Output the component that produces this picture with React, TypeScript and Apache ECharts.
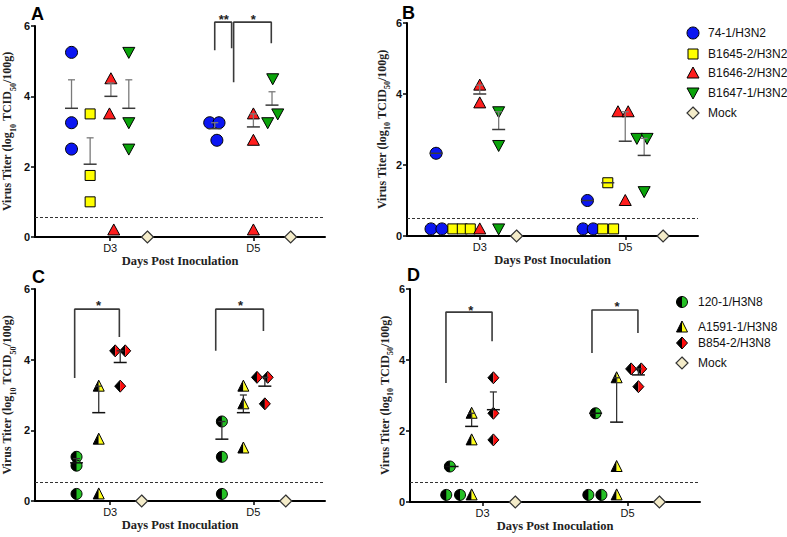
import React, { useEffect, useRef } from 'react';
import * as echarts from 'echarts';

const SANS = '"Liberation Sans", Arial, sans-serif';
const SERIF = '"Liberation Serif", "Times New Roman", serif';

const DAYS = ['D3', 'D5'];
const DAY_POS = [1, 2];
const Y_NAME = '{b|Virus Titer (log}{s|10}{b| TCID}{s|50}{b|/100g)}';
const X_NAME = 'Days Post Inoculation';

// ---------- Panel A (H3N2) ----------
const A_NAMES = ['74-1/H3N2', 'B1645-2/H3N2', 'B1646-2/H3N2', 'B1647-1/H3N2', 'Mock'];
const A_KINDS = ['circle', 'square', 'triangle', 'invTriangle', 'mock'];
const A_OFFSETS = [[-0.27, -0.27], [-0.14, -0.14], [0.005, 0], [0.13, 0.13], [0.26, 0.26]];
const A_VALUES = [
  [[5.25, 3.25, 2.5], [3.25, 3.25, 2.75]],
  [[3.5, 1.75, 1.0], []],
  [[4.5, 3.5, 0.2], [3.5, 2.75, 0.2]],
  [[5.25, 3.25, 2.5], [4.5, 3.5, 3.25]],
  [[0], [0]],
];
const A_JITTER = [
  [[0, 0, 0], [-0.035, 0.03, 0.015]],
  [[0, 0, 0], []],
  [[0, -0.01, 0.02], [0, 0, 0]],
  [[0, 0, 0], [0.005, 0.04, -0.03]],
  [[0], [0]],
];
const A_MEAN = [[3.66, 3.08], [2.07, null], [4.0, 3.13], [3.66, 3.75]];
const A_UPPER = [[4.47, 3.25], [2.82, null], [4.38, 3.5], [4.47, 4.13]];
const A_BRACKETS = [
  [[1.73, 5.31], [1.73, 6.11], [1.848, 6.11], [1.848, 5.37]],
  [[1.862, 4.4], [1.862, 6.11], [2.125, 6.11], [2.125, 5.51]],
];
const A_STARS = ['**', '*'];
const A_STAR_POS = [[1.793, 6.28], [2.0, 6.28]];
const A_LOD = 0.56;

// ---------- Panel B (H3N2) ----------
const B_OFFSETS = [[-0.30, -0.26], [-0.12, -0.12], [0, 0], [0.13, 0.13], [0.253, 0.26]];
const B_VALUES = [
  [[2.33, 0.2, 0.2], [1.0, 0.2, 0.2]],
  [[0.2, 0.2, 0.2], [1.5, 0.2, 0.2]],
  [[4.25, 3.75, 0.2], [3.5, 3.5, 1.0]],
  [[3.5, 2.55, 0.2], [2.75, 2.75, 1.25]],
  [[0], [0]],
];
const B_JITTER = [
  [[0, -0.035, 0.04], [0, -0.03, 0.04]],
  [[-0.065, 0, 0.055], [0, -0.035, 0.04]],
  [[0, 0, 0], [-0.05, 0.02, 0]],
  [[0, 0, 0], [-0.05, 0.02, 0]],
  [[0], [0]],
];
const B_MEAN = [[2.33, 1.0], [null, 1.5], [4.0, 2.67], [3.0, 2.27]];
const B_UPPER = [[2.33, 1.0], [null, 1.5], [4.25, 3.5], [3.5, 2.75]];
const B_LOD = 0.5;

// ---------- Panel C (H3N8) ----------
const CD_NAMES = ['120-1/H3N8', 'A1591-1/H3N8', 'B854-2/H3N8', 'Mock'];
const CD_KINDS = ['halfCircle', 'halfTriangle', 'halfDiamond', 'mock'];
const C_OFFSETS = [[-0.235, -0.22], [-0.08, -0.07], [0.07, 0.08], [0.22, 0.226]];
const C_VALUES = [
  [[1.25, 1.0, 0.2], [2.25, 1.25, 0.2]],
  [[3.25, 1.75, 0.2], [3.25, 2.75, 1.5]],
  [[4.25, 4.25, 3.25], [3.5, 3.5, 2.75]],
  [[0], [0]],
];
const C_JITTER = [
  [[0, 0, 0], [0, 0, 0]],
  [[0, 0, 0], [0, 0, 0]],
  [[-0.035, 0.035, 0], [-0.055, 0.02, 0]],
  [[0], [0]],
];
const C_MEAN = [[1.08, 1.75], [2.5, 2.5], [3.92, 3.25]];
const C_UPPER = [[1.2, 2.25], [3.25, 3.0], [4.25, 3.5]];
const C_BRACKETS = [
  [[0.752, 3.48], [0.752, 5.43], [1.064, 5.43], [1.064, 4.64]],
  [[1.737, 4.25], [1.737, 5.43], [2.07, 5.43], [2.07, 4.81]],
];
const C_STARS = ['*', '*'];
const C_STAR_POS = [[0.919, 5.63], [1.91, 5.63]];
const C_LOD = 0.53;

// ---------- Panel D (H3N8) ----------
const D_OFFSETS = [[-0.21, -0.22], [-0.075, -0.075], [0.075, 0.075], [0.226, 0.22]];
const D_VALUES = [
  [[1.0, 0.2, 0.2], [2.5, 0.2, 0.2]],
  [[2.5, 1.75, 0.2], [3.5, 1.0, 0.2]],
  [[3.5, 2.5, 1.75], [3.75, 3.75, 3.25]],
  [[0], [0]],
];
const D_JITTER = [
  [[-0.015, -0.04, 0.055], [0, -0.05, 0.04]],
  [[0, 0, 0], [0, 0, 0]],
  [[0, 0, 0], [-0.05, 0.02, 0]],
  [[0], [0]],
];
const D_MEAN = [[1.0, 2.5], [2.13, 2.25], [2.6, 3.58]];
const D_UPPER = [[1.0, 2.5], [2.5, 3.5], [3.1, 3.75]];
const D_BRACKETS = [
  [[0.748, 3.35], [0.748, 5.35], [1.066, 5.35], [1.066, 4.53]],
  [[1.755, 4.2], [1.755, 5.41], [2.072, 5.41], [2.072, 4.76]],
];
const D_STARS = ['*', '*'];
const D_STAR_POS = [[0.92, 5.49], [1.928, 5.58]];
const D_LOD = 0.56;

const COLORS: Record<string, string> = {
  circle: '#0b16f2',
  square: '#ffff00',
  triangle: '#ff1e1e',
  invTriangle: '#0aa40a',
  mock: '#f4ecc9',
  halfCircle: '#25c025',
  halfTriangle: '#ffff1a',
  halfDiamond: '#ff0b0b',
};

function shapes(kind: string, cx: number, cy: number): any[] {
  const fill = COLORS[kind];
  const edge = { stroke: '#000', lineWidth: 1 };
  switch (kind) {
    case 'circle':
      return [{ type: 'circle', shape: { cx, cy, r: 6 }, style: { fill, ...edge } }];
    case 'square':
      return [{ type: 'rect', shape: { x: cx - 5, y: cy - 5, width: 10, height: 10 }, style: { fill, ...edge } }];
    case 'triangle':
      return [{ type: 'polygon', shape: { points: [[cx, cy - 6], [cx + 6, cy + 5], [cx - 6, cy + 5]] }, style: { fill, ...edge } }];
    case 'invTriangle':
      return [{ type: 'polygon', shape: { points: [[cx - 6, cy - 5], [cx + 6, cy - 5], [cx, cy + 6]] }, style: { fill, ...edge } }];
    case 'mock':
      return [{ type: 'polygon', shape: { points: [[cx, cy - 6], [cx + 6, cy], [cx, cy + 6], [cx - 6, cy]] }, style: { fill, stroke: '#333', lineWidth: 1.2 } }];
    case 'halfCircle':
      return [
        { type: 'circle', shape: { cx, cy, r: 5.5 }, style: { fill } },
        { type: 'sector', shape: { cx, cy, r: 5.5, r0: 0, startAngle: Math.PI / 2, endAngle: (3 * Math.PI) / 2 }, style: { fill: '#000' } },
        { type: 'circle', shape: { cx, cy, r: 5.5 }, style: { fill: 'none', ...edge } },
      ];
    case 'halfTriangle': {
      const ap = [cx, cy - 6], bl = [cx - 5.5, cy + 5], bm = [cx, cy + 5], br = [cx + 5.5, cy + 5];
      return [
        { type: 'polygon', shape: { points: [ap, bl, bm] }, style: { fill: '#000' } },
        { type: 'polygon', shape: { points: [ap, bm, br] }, style: { fill } },
        { type: 'polygon', shape: { points: [ap, br, bl] }, style: { fill: 'none', ...edge } },
      ];
    }
    case 'halfDiamond': {
      const t = [cx, cy - 6], r = [cx + 5.5, cy], b = [cx, cy + 6], l = [cx - 5.5, cy];
      return [
        { type: 'polygon', shape: { points: [t, l, b] }, style: { fill: '#000' } },
        { type: 'polygon', shape: { points: [t, r, b] }, style: { fill } },
        { type: 'polygon', shape: { points: [t, r, b, l] }, style: { fill: 'none', ...edge } },
      ];
    }
  }
  return [];
}

function buildPanel(
  gi: number,
  kinds: string[],
  offsets: number[][],
  values: number[][][],
  jitter: number[][][],
  means: (number | null)[][],
  uppers: (number | null)[][],
  barColor: string,
  meanColor: string,
  brackets: number[][][],
  starTexts: string[],
  starPos: number[][],
  lod: number
): any[] {
  const out: any[] = [];
  values.forEach((grp, g) => {
    const data: number[][] = [];
    grp.forEach((dayVals, d) =>
      dayVals.forEach((v, k) => data.push([DAY_POS[d] + offsets[g][d] + jitter[g][d][k], v]))
    );
    out.push({
      type: 'custom',
      coordinateSystem: 'cartesian2d',
      xAxisIndex: gi,
      yAxisIndex: gi,
      clip: false,
      silent: true,
      z: 3,
      data,
      encode: { x: 0, y: 1 },
      renderItem: (_p: any, api: any) => {
        const c = api.coord([api.value(0), api.value(1)]);
        return { type: 'group', children: shapes(kinds[g], c[0], c[1]) };
      },
    });
  });
  const bars: number[][] = [];
  means.forEach((m, g) =>
    m.forEach((mv, d) => {
      const u = uppers[g][d];
      if (mv != null && u != null) bars.push([DAY_POS[d] + offsets[g][d], mv, u]);
    })
  );
  out.push({
    type: 'custom',
    coordinateSystem: 'cartesian2d',
    xAxisIndex: gi,
    yAxisIndex: gi,
    clip: false,
    silent: true,
    z: 4,
    data: bars,
    encode: { x: 0, y: 1 },
    renderItem: (_p: any, api: any) => {
      const pm = api.coord([api.value(0), api.value(1)]);
      const pu = api.coord([api.value(0), api.value(2)]);
      const ch: any[] = [];
      if (pm[1] - pu[1] > 0.5) {
        ch.push({ type: 'line', shape: { x1: pm[0], y1: pm[1], x2: pm[0], y2: pu[1] }, style: { stroke: barColor, lineWidth: 1.3 } });
        ch.push({ type: 'line', shape: { x1: pm[0] - 3.5, y1: pu[1], x2: pm[0] + 3.5, y2: pu[1] }, style: { stroke: barColor, lineWidth: 1.3 } });
      }
      ch.push({ type: 'line', shape: { x1: pm[0] - 6.5, y1: pm[1], x2: pm[0] + 6.5, y2: pm[1] }, style: { stroke: meanColor, lineWidth: 1.5 } });
      return { type: 'group', children: ch };
    },
  });
  brackets.forEach((br, i) => {
    out.push({
      type: 'line',
      xAxisIndex: gi,
      yAxisIndex: gi,
      data: br,
      symbol: 'none',
      showSymbol: false,
      clip: false,
      silent: true,
      z: 2,
      lineStyle: { color: '#3a3a3a', width: 1.6 },
      markLine:
        i === 0
          ? {
              symbol: ['none', 'none'],
              silent: true,
              label: { show: false },
              lineStyle: { type: [3, 2], color: '#333', width: 1 },
              data: [{ yAxis: lod }],
            }
          : undefined,
    });
  });
  out.push({
    type: 'custom',
    coordinateSystem: 'cartesian2d',
    xAxisIndex: gi,
    yAxisIndex: gi,
    clip: false,
    silent: true,
    z: 5,
    data: starPos,
    encode: { x: 0, y: 1 },
    renderItem: (p: any, api: any) => {
      const c = api.coord([api.value(0), api.value(1)]);
      return {
        type: 'text',
        x: c[0],
        y: c[1] + 3,
        style: {
          text: starTexts[p.dataIndex],
          fill: '#222',
          font: `bold 13px ${SANS}`,
          align: 'center',
          verticalAlign: 'middle',
          textAlign: 'center',
          textVerticalAlign: 'middle',
        },
      };
    },
  });
  return out;
}

function xAxis(gi: number, min: number) {
  return {
    gridIndex: gi,
    type: 'value',
    min,
    max: 2.5,
    axisLine: { show: true, onZero: false, lineStyle: { color: '#000', width: 2 } },
    axisTick: { show: true, customValues: DAY_POS, length: 4, lineStyle: { color: '#000', width: 1.5 } },
    axisLabel: {
      customValues: DAY_POS,
      formatter: (v: number) => DAYS[Math.round(v) - 1] ?? '',
      fontFamily: SANS,
      fontSize: 11,
      color: '#111',
      margin: 5,
    },
    splitLine: { show: false },
    name: X_NAME,
    nameLocation: 'middle',
    nameGap: 17,
    nameTextStyle: { fontFamily: SERIF, fontWeight: 'bold', fontSize: 12.5, color: '#222' },
  };
}

function yAxis(gi: number, gap: number) {
  return {
    gridIndex: gi,
    type: 'value',
    min: 0,
    max: 6,
    interval: 2,
    axisLine: { show: true, onZero: false, lineStyle: { color: '#000', width: 2 } },
    axisTick: { show: true, length: 4, lineStyle: { color: '#000', width: 1.5 } },
    axisLabel: { fontFamily: SANS, fontWeight: 'bold', fontSize: 11, color: '#111', margin: 5 },
    splitLine: { show: false },
    name: Y_NAME,
    nameLocation: 'middle',
    nameGap: gap,
    nameRotate: 90,
    nameTextStyle: {
      rich: {
        b: { fontFamily: SERIF, fontWeight: 'bold', fontSize: 12, color: '#222', verticalAlign: 'top', lineHeight: 16 },
        s: { fontFamily: SERIF, fontWeight: 'bold', fontSize: 8, color: '#222', verticalAlign: 'bottom', lineHeight: 16 },
      },
    },
  };
}

const B_LEGEND_ROWS = [33, 54, 73, 93, 113];
const D_LEGEND_ROWS = [302, 327, 343, 363];

function legend(names: string[], kinds: string[], rows: number[], mx: number, tx: number): any[] {
  return names.map((n, i) => ({
    type: 'group',
    children: [
      ...shapes(kinds[i], mx, rows[i]),
      {
        type: 'text',
        x: tx,
        y: rows[i],
        style: { text: n, font: `12px ${SANS}`, fill: '#111', verticalAlign: 'middle', textVerticalAlign: 'middle' },
      },
    ],
  }));
}

function letter(t: string, x: number, y: number) {
  return { type: 'text', x, y, style: { text: t, font: `bold 18px ${SANS}`, fill: '#000' } };
}

export default function App() {
  const ref = useRef<HTMLDivElement>(null);
  useEffect(() => {
    if (!ref.current) return;
    const chart = echarts.init(ref.current, undefined, { renderer: 'svg' });
    const series = [
      ...buildPanel(0, A_KINDS, A_OFFSETS, A_VALUES, A_JITTER, A_MEAN, A_UPPER, '#7a7a7a', '#3a3a3a', A_BRACKETS, A_STARS, A_STAR_POS, A_LOD),
      ...buildPanel(1, A_KINDS, B_OFFSETS, B_VALUES, B_JITTER, B_MEAN, B_UPPER, '#7a7a7a', '#3a3a3a', [], [], [], B_LOD),
      ...buildPanel(2, CD_KINDS, C_OFFSETS, C_VALUES, C_JITTER, C_MEAN, C_UPPER, '#333', '#111', C_BRACKETS, C_STARS, C_STAR_POS, C_LOD),
      ...buildPanel(3, CD_KINDS, D_OFFSETS, D_VALUES, D_JITTER, D_MEAN, D_UPPER, '#333', '#111', D_BRACKETS, D_STARS, D_STAR_POS, D_LOD),
    ];
    // Panel B has no brackets: add dashed detection limit via an empty line series
    series.push({
      type: 'line',
      xAxisIndex: 1,
      yAxisIndex: 1,
      data: [],
      symbol: 'none',
      silent: true,
      markLine: {
        symbol: ['none', 'none'],
        silent: true,
        label: { show: false },
        lineStyle: { type: [3, 2], color: '#333', width: 1 },
        data: [{ yAxis: B_LOD }],
      },
    });
    chart.setOption({
      animation: false,
      backgroundColor: '#fff',
      grid: [
        { left: 33, top: 26, width: 292, height: 211 },
        { left: 407, top: 23, width: 291, height: 213 },
        { left: 33, top: 289, width: 292, height: 212 },
        { left: 410, top: 289, width: 290, height: 213 },
      ],
      xAxis: [xAxis(0, 0.475), xAxis(1, 0.5), xAxis(2, 0.475), xAxis(3, 0.5)],
      yAxis: [yAxis(0, 18), yAxis(1, 14), yAxis(2, 18), yAxis(3, 14)],
      graphic: [
        letter('A', 31, 5),
        letter('B', 402, 4),
        letter('C', 32, 268),
        letter('D', 407, 266),
        ...legend(A_NAMES, A_KINDS, B_LEGEND_ROWS, 693, 708),
        ...legend(CD_NAMES, CD_KINDS, D_LEGEND_ROWS, 682, 698),
      ],
      series,
    });
    return () => chart.dispose();
  }, []);
  return <div ref={ref} style={{ position: 'absolute', left: 0, top: 0, width: 787, height: 537 }} />;
}
